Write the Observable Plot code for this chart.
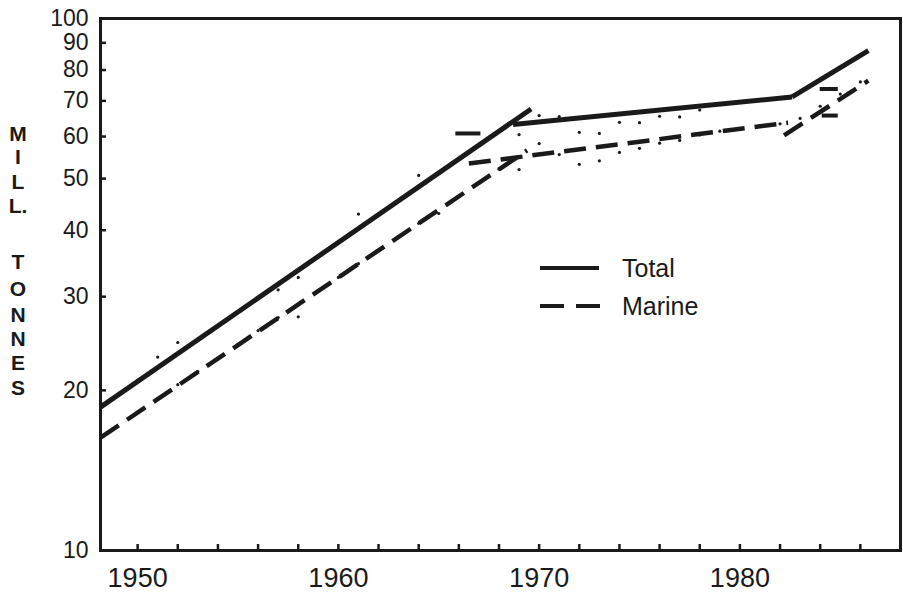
<!DOCTYPE html>
<html><head><meta charset="utf-8">
<script src="https://cdn.jsdelivr.net/npm/d3@7"></script>
<script src="https://cdn.jsdelivr.net/npm/@observablehq/plot@0.6"></script>
<style>body{margin:0;background:#fff}#chart{width:903px;height:598px}</style>
</head><body><div id="chart"></div>
<script>
// Trend lines (fitted segments), year / million tonnes
const totalTrendYear = [1948.15, 1969.6, 1968.7, 1982.6, 1982.6, 1986.4];
const totalTrendValue = [18.6, 67.6, 63.2, 71.2, 71.2, 87.0];
const totalTrendSegment = [1, 1, 2, 2, 3, 3];
const marineTrendYear = [1948.15, 1969.4, 1966.5, 1982.4, 1982.2, 1986.4];
const marineTrendValue = [16.3, 56.5, 53.4, 63.7, 60.3, 76.4];
const marineTrendSegment = [1, 1, 2, 2, 3, 3];

// Annual values (dots)
const years = [1950,1951,1952,1953,1954,1955,1956,1957,1958,1959,1960,1961,1962,1963,1964,1965,1966,1967,1968,1969,1970,1971,1972,1973,1974,1975,1976,1977,1978,1979,1980,1981,1982,1983,1984,1985,1986];
const totalAnnual = [20.9,23.1,24.6,25.0,26.5,28.1,29.9,30.9,32.6,35.8,38.0,42.9,42.8,45.5,50.7,51.3,54.5,57.8,61.4,60.5,65.7,65.4,61.1,60.8,63.8,63.7,65.5,65.3,67.3,69.0,69.6,70.2,70.8,72.7,76.7,80.9,85.4];
const marineAnnual = [18.2,19.3,20.5,21.7,23.0,24.4,25.9,27.4,27.5,30.8,32.6,34.6,36.7,38.9,41.2,43.0,46.3,49.1,52.1,52.0,58.2,55.5,53.2,54.0,56.0,57.0,58.3,59.0,60.4,61.4,62.0,62.8,63.4,64.9,68.4,72.1,76.0];

// Short extra dashes near the breakpoints
const extraStart = [1965.85, 1984.0, 1984.1];
const extraEnd = [1967.1, 1984.9, 1984.9];
const extraValue = [60.8, 73.7, 65.7];

// Axis ticks
const xTickLabels = [1950, 1960, 1970, 1980];
const xMinorTicks = [1950,1952,1954,1956,1958,1960,1962,1964,1966,1968,1970,1972,1974,1976,1978,1980,1982,1984,1986];
const yTickLabels = [10, 20, 30, 40, 50, 60, 70, 80, 90, 100];
const yTitleLetters = ["M","I","L","L.","T","O","N","N","E","S"];
const legendLabels = ["Total", "Marine"];

const totalTrend = totalTrendYear.map((y, i) => ({year: y, value: totalTrendValue[i], segment: totalTrendSegment[i]}));
const marineTrend = marineTrendYear.map((y, i) => ({year: y, value: marineTrendValue[i], segment: marineTrendSegment[i]}));
const totalDots = years.map((y, i) => ({year: y, value: totalAnnual[i]}));
const marineDots = years.map((y, i) => ({year: y, value: marineAnnual[i]}));
const extras = extraValue.map((v, i) => ({a: extraStart[i], b: extraEnd[i], value: v}));

const W = 903, H = 598, mL = 100, mR = 3, mT = 18, mB = 48;
const innerW = W - mL - mR, innerH = H - mT - mB;
const ink = "#1a1a1a";
const font = "'Liberation Sans', Arial, sans-serif";

const chart = Plot.plot({
  width: W, height: H,
  marginLeft: mL, marginRight: mR, marginTop: mT, marginBottom: mB,
  style: {fontFamily: font, background: "#fff", color: ink},
  x: {domain: [1948.15, 1988]},
  y: {type: "log", domain: [10, 100]},
  marks: [
    Plot.axisX(xTickLabels, {tickSize: 0, tickPadding: 17, fontSize: 27, tickFormat: d => String(d), label: null}),
    Plot.axisY(yTickLabels, {tickSize: 0, tickPadding: 12, fontSize: 23, tickFormat: d => String(d), label: null}),
    Plot.tickX(xMinorTicks, {x: d => d, insetTop: innerH - 6, stroke: ink, strokeWidth: 2.5}),
    Plot.tickY(yTickLabels, {y: d => d, insetRight: innerW - 6, stroke: ink, strokeWidth: 2.5}),
    Plot.frame({stroke: ink, strokeWidth: 3}),
    Plot.dot(totalDots, {x: "year", y: "value", r: 1.6, fill: ink}),
    Plot.dot(marineDots, {x: "year", y: "value", r: 1.6, fill: ink}),
    Plot.ruleY(extras, {y: "value", x1: "a", x2: "b", stroke: ink, strokeWidth: 4}),
    Plot.line(totalTrend, {x: "year", y: "value", z: "segment", stroke: ink, strokeWidth: 5, strokeLinecap: "butt"}),
    Plot.line(marineTrend, {x: "year", y: "value", z: "segment", stroke: ink, strokeWidth: 4.5, strokeDasharray: "22,10", strokeLinecap: "butt"})
  ]
});
document.getElementById("chart").appendChild(chart);

const svg = d3.select(chart);
// vertical stacked y-axis title
const letterY = [133, 156, 181, 205, 261, 288, 314, 338, 362, 387];
const yt = svg.append("g").attr("font-family", font)
  .attr("font-weight", "bold").attr("font-size", 21).attr("fill", ink).attr("text-anchor", "middle");
yTitleLetters.forEach((t, i) => {
  yt.append("text").attr("x", 18).attr("y", letterY[i] + 8).text(t);
});
// legend
const lg = svg.append("g");
lg.append("line").attr("x1", 540).attr("x2", 599).attr("y1", 268).attr("y2", 268)
  .attr("stroke", ink).attr("stroke-width", 4);
lg.append("line").attr("x1", 540).attr("x2", 600).attr("y1", 306).attr("y2", 306)
  .attr("stroke", ink).attr("stroke-width", 4).attr("stroke-dasharray", "24,12");
lg.selectAll("text").data(legendLabels).join("text")
  .attr("x", 622).attr("y", (d, i) => 277 + i * 38)
  .attr("text-anchor", "start")
  .attr("font-family", font).attr("font-size", 25)
  .attr("fill", ink).text(d => d);
</script>
</body></html>
